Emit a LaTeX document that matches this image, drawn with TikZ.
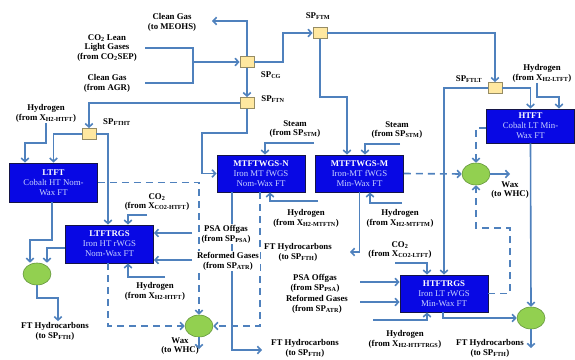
\documentclass[tikz,border=0pt]{standalone}
\usepackage{fontspec}
\setmainfont{Liberation Serif}
\usetikzlibrary{arrows.meta,shapes.geometric}

\definecolor{flowc}{RGB}{79,129,189}
\definecolor{unitfill}{RGB}{8,8,228}
\definecolor{unitline}{RGB}{20,20,70}
\definecolor{unitsub}{RGB}{200,210,255}
\definecolor{mixfill}{RGB}{146,208,80}
\definecolor{mixline}{RGB}{100,150,60}
\definecolor{splfill}{RGB}{255,232,160}
\definecolor{splline}{RGB}{150,140,100}

\tikzset{every picture/.style={line width=0.75pt}}
\tikzset{
  flow/.style={draw=flowc,line width=1.6pt},
  arr/.style={flow,-{Straight Barb[length=3.5pt,width=7.5pt]}},
  darr/.style={arr,dash pattern=on 7pt off 5pt},
  spl/.style={draw=splline,fill=splfill,line width=0.8pt,minimum width=14pt,minimum height=11pt,inner sep=0pt},
  unitbox/.style={draw=unitline,fill=unitfill,line width=0.8pt,text=unitsub,align=center,minimum width=88pt,minimum height=37pt,inner sep=1pt,font=\fontsize{8.8}{9.9}\selectfont},
  mixer/.style={ellipse,draw=mixline,fill=mixfill,line width=0.6pt,minimum width=28pt,minimum height=22pt,inner sep=0pt},
  lbl/.style={align=center,fill=white,inner sep=0.6pt,font=\bfseries\fontsize{8.8}{9.8}\selectfont},
  spt/.style={inner sep=0.5pt,font=\bfseries\fontsize{8.8}{9.8}\selectfont}
}

\begin{document}
\begin{tikzpicture}[x=1pt,y=1pt,yscale=-1]
\useasboundingbox (0,0) rectangle (575,359);

%Shape: Splitters
\node [spl] (spcg) at (247,62) {};
\node [spl] (spftn) at (247,103) {};
\node [spl] (spftm) at (320,33) {};
\node [spl] (spftlt) at (495,88) {};
\node [spl] (spftht) at (89,134) {};

%Shape: Reactors
\node [unitbox,minimum height=39pt] (ltft) at (53.5,182.5) {\textcolor{white}{\textbf{LTFT}}\\Cobalt HT Nom-\\Wax FT};
\node [unitbox] (mtfN) at (261,173.5) {\textcolor{white}{\textbf{MTFTWGS-N}}\\Iron MT fWGS\\Nom-Wax FT};
\node [unitbox] (mtfM) at (359.5,173.5) {\textcolor{white}{\textbf{MTFTWGS-M}}\\Iron-MT fWGS\\Min-Wax FT};
\node [unitbox,minimum height=34pt] (htft) at (530.5,126) {\textcolor{white}{\textbf{HTFT}}\\Cobalt LT Min-\\Wax FT};
\node [unitbox,minimum height=38pt] (ltfRGS) at (109.5,244) {\textcolor{white}{\textbf{LTFTRGS}}\\Iron HT rWGS\\Nom-Wax FT};
\node [unitbox] (htfRGS) at (444,293.5) {\textcolor{white}{\textbf{HTFTRGS}}\\Iron LT rWGS\\Min-Wax FT};

%Shape: Mixers
\node [mixer] (mixL) at (37,274) {};
\node [mixer] (mixW) at (199,326) {};
\node [mixer] (mixR) at (476,174) {};
\node [mixer] (mixH) at (531,318) {};

%Free ends
\coordinate (cgend) at (212,21);
\coordinate (jfeed) at (193,62);
\coordinate (jin) at (145,0);
\coordinate (jcg) at (283,0);
\coordinate (jftn) at (202,133);
\coordinate (jftm) at (347,97);
\coordinate (jlt) at (559,97);
\coordinate (jht) at (25,143);
\coordinate (jmixL) at (30,240);
\coordinate (jfthL) at (58,298);
\coordinate (jco2ht) at (147,215);
\coordinate (jpsaL) at (192,233);
\coordinate (jrefL) at (192,260);
\coordinate (jh2rgs) at (165,277);
\coordinate (jwaxW) at (199,349);
\coordinate (jfthN) at (262,350);
\coordinate (jstmN) at (314,143);
\coordinate (jstmM) at (400,144);
\coordinate (jh2N) at (318,201);
\coordinate (jh2M) at (402,203);
\coordinate (jfthM) at (350,252);
\coordinate (jwaxR) at (510,174);
\coordinate (jdash) at (510,228);
\coordinate (jfthR) at (531,348);
\coordinate (jco2lt) at (395,263);
\coordinate (jpsaR) at (360,282);
\coordinate (jrefR) at (360,302);
\coordinate (jh2hr) at (373,320);

% Text Node
\node [lbl] (cgout) at (172,22) {Clean Gas\\(to MEOHS)};
\node [lbl] (co2lean) at (107,48) {CO\textsubscript{2} Lean\\Light Gases\\(from CO\textsubscript{2}SEP)};
\node [lbl] (agr) at (107,83) {Clean Gas\\(from AGR)};
\node [spt] (tcg) at (271,75) {SP\textsubscript{CG}};
\node [spt] (tftn) at (273,99) {SP\textsubscript{FTN}};
\node [spt] (tftm) at (318,16) {SP\textsubscript{FTM}};
\node [spt] (tftlt) at (469,79) {SP\textsubscript{FTLT}};
\node [spt] (tftht) at (117,122) {SP\textsubscript{FTHT}};
\node [lbl] (h2ht) at (46,113) {Hydrogen\\(from X\textsubscript{H2-HTFT})};
\node [lbl] (h2lt) at (542,73) {Hydrogen\\(from X\textsubscript{H2-LTFT})};
\node [lbl] (stmN) at (295,129) {Steam\\(from SP\textsubscript{STM})};
\node [lbl] (stmM) at (397,130) {Steam\\(from SP\textsubscript{STM})};
\node [lbl] (co2ht) at (157,202) {CO\textsubscript{2}\\(from X\textsubscript{CO2-HTFT})};
\node [lbl] (h2N) at (306,218) {Hydrogen\\(from X\textsubscript{H2-MTFTN})};
\node [lbl] (h2M) at (400,218) {Hydrogen\\(from X\textsubscript{H2-MTFTM})};
\node [lbl] (fthM) at (298,252) {FT Hydrocarbons\\(to SP\textsubscript{FTH})};
\node [lbl] (co2lt) at (400,250) {CO\textsubscript{2}\\(from X\textsubscript{CO2-LTFT})};
\node [lbl] (psaR) at (315,283) {PSA Offgas\\(from SP\textsubscript{PSA})};
\node [lbl] (refR) at (317,304) {Reformed Gases\\(from SP\textsubscript{ATR})};
\node [lbl] (h2hr) at (405,339) {Hydrogen\\(from X\textsubscript{H2-HTFTRGS})};
\node [lbl] (h2rgs) at (155,291) {Hydrogen\\(from X\textsubscript{H2-HTFT})};
\node [lbl] (fthL) at (55,331) {FT Hydrocarbons\\(to SP\textsubscript{FTH})};
\node [lbl] (waxM) at (180,346) {Wax\\(to WHC)};
\node [lbl] (waxR) at (510,190) {Wax\\(to WHC)};
\node [lbl] (fthN) at (305,348) {FT Hydrocarbons\\(to SP\textsubscript{FTH})};
\node [lbl] (fthR) at (490,348) {FT Hydrocarbons\\(to SP\textsubscript{FTH})};

%Straight Lines: gas feed and splitters
\draw [flow] (jin |- co2lean) -| (jfeed);
\draw [flow] (jin |- agr) -| (jfeed);
\draw [arr] (jfeed) -- (spcg.west);
\draw [arr] (spcg.north) |- (cgend);
\draw [arr] (spcg.east) -| (jcg |- spftm) -- (spftm.west);
\draw [arr] (spcg.south) -- (spftn.north);
\draw [arr] (spftn.west) -| (spftht.north);
\draw [arr] (spftn.south) |- (jftn) |- (mtfN.west);
\draw [arr] (spftm.east) -| (spftlt.north);
\draw [arr] (spftm.south) |- (jftm) -- (jftm |- mtfM.north);
\draw [arr] (spftlt.west) -| (htfRGS.north);
\draw [arr] (spftlt.east) -| (htft.north);
\draw [arr] ([xshift=-5pt]h2lt.south) |- (jlt) -- (jlt |- htft.north);
\draw [arr] (h2ht.south) |- (jht) -- (jht |- ltft.north);
\draw [arr] (spftht.west) -| (ltft.north);
\draw [arr] (spftht.east) -| ([xshift=-1.5pt]ltfRGS.north);

%Straight Lines: LTFT side
\draw [arr] ([xshift=-1.5pt]ltft.south) |- (jmixL) -- (jmixL |- mixL.north);
\draw [arr] ([yshift=4pt]ltfRGS.west) -| ([xshift=10pt]mixL.north);
\draw [arr] (mixL.south) |- (jfthL) -- (jfthL |- fthL.north);
\draw [arr] (jco2ht) -| ([xshift=18.5pt]ltfRGS.north);
\draw [arr] (jpsaL) -- (jpsaL -| ltfRGS.east);
\draw [arr] (jrefL) -- (jrefL -| ltfRGS.east);
\draw [arr] (jh2rgs) -| ([xshift=18.5pt]ltfRGS.south);

%Straight Lines: MTFT units
\draw [arr] ([xshift=-29pt]mtfN.south) |- (jfthN);
\draw [arr] (jstmN) -| ([xshift=4pt]mtfN.north);
\draw [arr] (jstmM) -| ([xshift=5.5pt]mtfM.north);
\draw [arr] (jh2N) -| ([xshift=9pt]mtfN.south);
\draw [arr] (jh2M) -| ([xshift=10.5pt]mtfM.south);
\draw [arr] (mtfM.south) |- (jfthM);

%Straight Lines: HTFT side
\draw [arr] (htft.south) -- (mixH.north);
\draw [arr] ([xshift=-1pt]htfRGS.south) |- (mixH.west);
\draw [arr] (mixH.south) -- (jfthR);
\draw [arr] (jco2lt) -| ([xshift=-17pt]htfRGS.north);
\draw [arr] (jpsaR) -- (jpsaR -| htfRGS.west);
\draw [arr] (jrefR) -- (jrefR -| htfRGS.west);
\draw [arr] (jh2hr) -| ([xshift=-17pt]htfRGS.south);
\draw [arr] (mixR.east) -- (jwaxR);
\draw [arr] (mixW.south) -- (jwaxW);

%Dashed Lines: wax
\draw [darr] (ltft.east) -| (mixW.north);
\draw [darr] ([xshift=-1.5pt]ltfRGS.south) |- (mixW.west);
\draw [darr] ([xshift=-1pt]mtfN.south) |- (mixW.east);
\draw [darr] (mtfM.east) -- (mixR.west);
\draw [darr] ([yshift=2pt]htft.west) -| (mixR.north);
\draw [darr] (htfRGS.east) -| (jdash) -| (mixR.south);

% Text Node (over the lines)
\node [lbl] (psaL) at (226,234) {PSA Offgas\\(from SP\textsubscript{PSA})};
\node [lbl] (refL) at (228,261) {Reformed Gases\\(from SP\textsubscript{ATR})};

\end{tikzpicture}
\end{document}
